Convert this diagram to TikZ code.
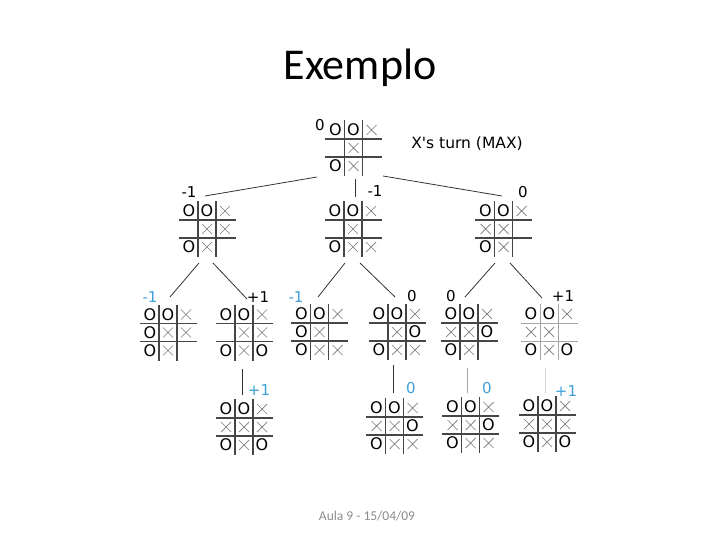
\documentclass[tikz,border=0pt]{standalone}
\usepackage{fontspec}
\setmainfont{Carlito}
\newfontfamily\dvs{DejaVu Sans}
\usetikzlibrary{calc}
\definecolor{lblblue}{RGB}{62,160,215}
\definecolor{gridc}{RGB}{70,70,70}
\definecolor{lightgridc}{RGB}{165,165,165}
\definecolor{crossc}{RGB}{120,120,120}
\definecolor{footc}{RGB}{140,140,140}
\tikzset{
 boardnode/.style={minimum width=57pt,minimum height=56pt,inner sep=0pt},
 gridline/.style={draw=gridc,line width=1.1pt},
 lightgrid/.style={draw=lightgridc,line width=1.0pt},
 ocell/.style={font=\dvs\fontsize{16}{16}\selectfont,inner sep=0pt},
 xcell/.style={draw=crossc,line width=0.7pt},
 val/.style={font=\dvs\fontsize{15}{15}\selectfont,inner sep=0pt},
 bval/.style={val,text=lblblue},
 edge/.style={draw=black!80,line width=0.8pt},
 lightedge/.style={draw=black!35,line width=0.8pt},
 lighteredge/.style={draw=black!15,line width=0.8pt},
}
\newcommand\drawboard[5][gridline]{%
 \node[boardnode] (#2) at (#3,#4) {};
 \draw[#1] (#3-9,#4-28) -- (#3-9,#4+28) (#3+9,#4-28) -- (#3+9,#4+28)
   (#3-28.5,#4-9) -- (#3+28.5,#4-9) (#3-28.5,#4+9) -- (#3+28.5,#4+9);
 \foreach \c [count=\i from 0] in {#5} {
   \pgfmathtruncatemacro\col{mod(\i,3)}
   \pgfmathtruncatemacro\row{div(\i,3)}
   \pgfmathsetmacro\cx{#3+(\col-1)*18}
   \pgfmathsetmacro\cy{#4+(\row-1)*18}
   \ifnum\c=1 \node[ocell] at (\cx,\cy) {O};\fi
   \ifnum\c=2 \draw[xcell] (\cx-5,\cy-5) -- (\cx+5,\cy+5) (\cx-5,\cy+5) -- (\cx+5,\cy-5);\fi
 }
}
\begin{document}
\begin{tikzpicture}[x=1pt,y=-1pt]
\useasboundingbox (0,0) rectangle (720,540);
\node[font=\fontsize{44}{44}\selectfont] (title) at (360,68) {Exemplo};
\node[font=\fontsize{13.5}{13.5}\selectfont,text=footc] (foot) at (367,516) {Aula 9 - 15/04/09};

\drawboard{root}{353.5}{148}{1,1,2,0,2,0,1,2,0}
\drawboard{A}{207}{229}{1,1,2,0,2,2,1,2,0}
\drawboard{B}{353}{229}{1,1,2,0,2,0,1,2,2}
\drawboard{C}{503.5}{229}{1,1,2,2,2,0,1,2,0}
\drawboard{A1}{168}{332.5}{1,1,2,1,2,2,1,2,0}
\drawboard{A2}{244}{332.5}{1,1,2,0,2,2,1,2,1}
\drawboard{B1}{319.5}{332}{1,1,2,1,2,0,1,2,2}
\drawboard{B2}{397}{332}{1,1,2,0,2,1,1,2,2}
\drawboard{C1}{469}{332}{1,1,2,2,2,1,1,2,0}
\drawboard[lightgrid]{C2}{549}{332}{1,1,2,2,2,0,1,2,1}
\drawboard{A2b}{244}{427}{1,1,2,2,2,2,1,2,1}
\drawboard{B2b}{394.5}{426}{1,1,2,2,2,1,1,2,2}
\drawboard{C1b}{470.5}{425}{1,1,2,2,2,1,1,2,2}
\drawboard{C2b}{547}{424}{1,1,2,2,2,2,1,2,1}

\node[val] (lroot) at (320,125) {0};
\node[font=\dvs\fontsize{15.5}{15.5}\selectfont,inner sep=0pt] (turn) at (467,144) {X's turn (MAX)};
\node[val] (lA) at (189,192) {-1};
\node[val] (lB) at (375,191) {-1};
\node[val] (lC) at (523,192) {0};
\node[bval] (lA1) at (150,297) {-1};
\node[val] (lA2) at (258,297) {+1};
\node[bval] (lB1) at (296,297) {-1};
\node[val] (lB2) at (412,296) {0};
\node[val] (lC1) at (451,296) {0};
\node[val] (lC2) at (563,296) {+1};
\node[bval] (lA2b) at (259,390) {+1};
\node[bval] (lB2b) at (411,388) {0};
\node[bval] (lC1b) at (487,388) {0};
\node[bval] (lC2b) at (566,391) {+1};

\draw[edge] ($(root.center)+(-36.5,29)$) -- ($(A.center)+(-2,-33)$);
\draw[edge] ($(root.center)+(1.5,31)$) -- ($(B.center)+(2,-32)$);
\draw[edge] ($(root.center)+(29.5,28)$) -- ($(C.center)+(-1.5,-33)$);
\draw[edge] ($(A.center)+(-8,34)$) -- ($(A1.center)+(2,-35.5)$);
\draw[edge] ($(A.center)+(6,34)$) -- ($(A2.center)+(3,-33.5)$);
\draw[edge] ($(B.center)+(-8,34)$) -- ($(B1.center)+(-1.5,-35)$);
\draw[edge] ($(B.center)+(7,34)$) -- ($(B2.center)+(-2,-35)$);
\draw[edge] ($(C.center)+(-8.5,34)$) -- ($(C1.center)+(-4,-35)$);
\draw[edge] ($(C.center)+(6.5,34)$) -- ($(C2.center)+(-7,-34)$);
\draw[edge] ($(A2.center)+(-2,36)$) -- ($(A2b.center)+(-2,-32)$);
\draw[edge] ($(B2.center)+(-4,33)$) -- ($(B2b.center)+(-1.5,-33)$);
\draw[lightedge] ($(C1.center)+(-2,36)$) -- ($(C1b.center)+(-3.5,-32)$);
\draw[lighteredge] ($(C2.center)+(-4,36)$) -- ($(C2b.center)+(-2,-31)$);
\end{tikzpicture}
\end{document}
